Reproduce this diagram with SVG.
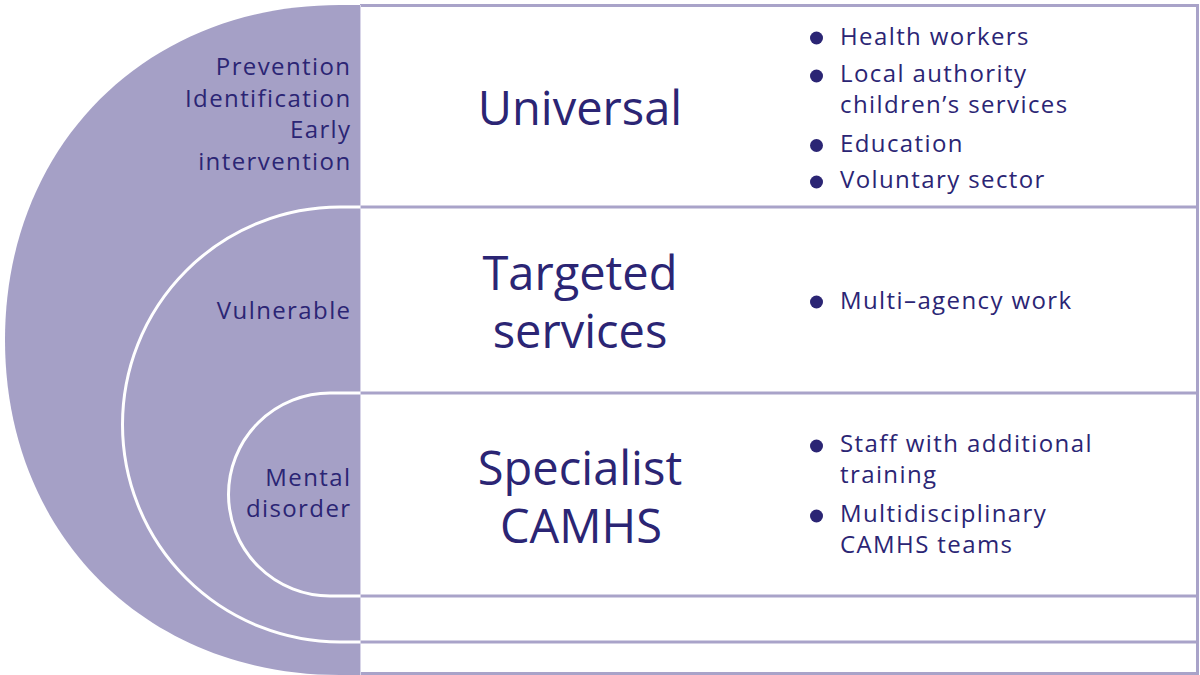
<svg xmlns="http://www.w3.org/2000/svg" width="1200" height="675" viewBox="0 0 1200 675">
  <style>
    .band { fill: #a5a0c6; }
    .ring { fill: none; stroke: #ffffff; stroke-width: 3; }
    .rule { stroke: #a9a3c9; stroke-width: 3; fill: none; }
    .side { font-family: "Open Sans", "Noto Sans", sans-serif; font-size: 24px; letter-spacing: 1.4px; fill: #2b2574; text-anchor: end; }
    .head { font-family: "Open Sans", "Noto Sans", sans-serif; font-size: 47px; fill: #2b2574; text-anchor: middle; }
    .item { font-family: "Open Sans", "Noto Sans", sans-serif; font-size: 24px; letter-spacing: 1.4px; fill: #2b2574; }
    .dot { fill: #2b2574; }
  </style>

  <!-- right-hand panel background -->
  <rect x="360" y="5" width="838" height="669" fill="#ffffff"/>

  <!-- shaded half-disc with the two inner rings -->
  <g id="rings">
    <path class="band" d="M360,5 L340,5 C145.7,5 5,145.7 5,340 C5,534.3 145.7,675 340,675 L360,675 Z"/>
    <path class="ring" d="M360,207 L340,207 A217.5,217.5 0 0 0 340,642 L360,642"/>
    <path class="ring" d="M360,393 L330,393 A101.5,101.5 0 0 0 330,596 L360,596"/>
  </g>

  <!-- row dividers and panel border -->
  <g id="connectors">
    <line class="rule" x1="360" y1="5.5" x2="1198" y2="5.5"/>
    <line class="rule" x1="360" y1="207" x2="1198" y2="207"/>
    <line class="rule" x1="360" y1="393" x2="1198" y2="393"/>
    <line class="rule" x1="360" y1="596" x2="1198" y2="596"/>
    <line class="rule" x1="360" y1="642" x2="1198" y2="642"/>
    <line class="rule" x1="360" y1="673.5" x2="1198" y2="673.5"/>
    <line class="rule" x1="1197.5" y1="4" x2="1197.5" y2="675"/>
    <line x1="360.5" y1="5" x2="360.5" y2="675" stroke="#d8d5e8" stroke-width="1"/>
  </g>

  <!-- ring labels -->
  <g id="label-outer">
    <text class="side" x="351.5" y="75">Prevention</text>
    <text class="side" x="351.5" y="107">Identification</text>
    <text class="side" x="351.5" y="138">Early</text>
    <text class="side" x="351.5" y="170">intervention</text>
  </g>
  <g id="label-middle">
    <text class="side" x="351.5" y="319">Vulnerable</text>
  </g>
  <g id="label-inner">
    <text class="side" x="351.5" y="486">Mental</text>
    <text class="side" x="351.5" y="517">disorder</text>
  </g>

  <!-- tier 1 -->
  <g id="universal">
    <text class="head" x="580" y="125">Universal</text>
    <circle class="dot" cx="816.5" cy="38" r="6.5"/>
    <text class="item" x="840" y="45">Health workers</text>
    <circle class="dot" cx="816.5" cy="76" r="6.5"/>
    <text class="item" x="840" y="82">Local authority</text>
    <text class="item" x="840" y="113">children’s services</text>
    <circle class="dot" cx="816.5" cy="145.5" r="6.5"/>
    <text class="item" x="840" y="152">Education</text>
    <circle class="dot" cx="816.5" cy="182" r="6.5"/>
    <text class="item" x="840" y="188">Voluntary sector</text>
  </g>

  <!-- tier 2 -->
  <g id="targeted">
    <text class="head" x="580" y="290">Targeted</text>
    <text class="head" x="580" y="348">services</text>
    <circle class="dot" cx="816.5" cy="302" r="6.5"/>
    <text class="item" x="840" y="309">Multi–agency work</text>
  </g>

  <!-- tier 3 -->
  <g id="specialist">
    <text class="head" x="580" y="485">Specialist</text>
    <text class="head" x="581" y="543">CAMHS</text>
    <circle class="dot" cx="816.5" cy="446" r="6.5"/>
    <text class="item" x="840" y="452">Staff with additional</text>
    <text class="item" x="840" y="483">training</text>
    <circle class="dot" cx="816.5" cy="516" r="6.5"/>
    <text class="item" x="840" y="522">Multidisciplinary</text>
    <text class="item" x="840" y="553">CAMHS teams</text>
  </g>
</svg>
